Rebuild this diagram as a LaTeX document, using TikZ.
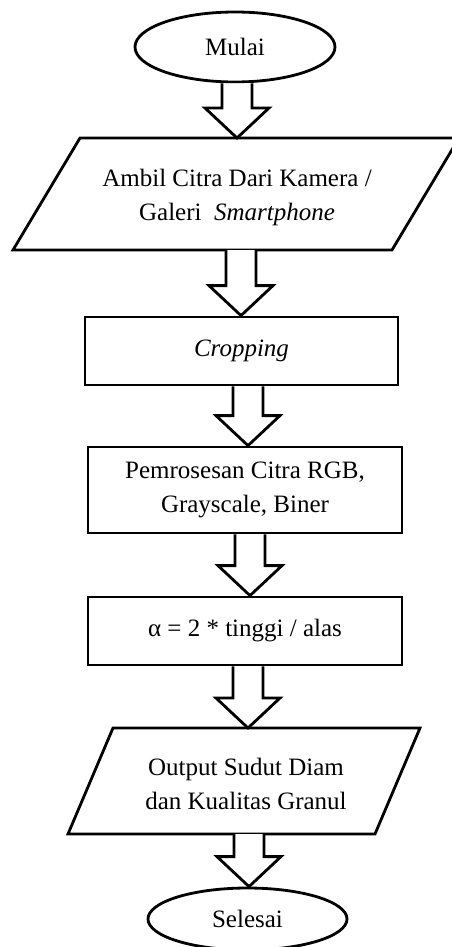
\documentclass[tikz,border=0pt]{standalone}
\usepackage{fontspec}
\setmainfont{Liberation Serif}
\usetikzlibrary{shapes.geometric,calc}
\tikzset{
  shapeline/.style={draw=black, line width=2.8pt, line join=miter},
  txt/.style={font=\fontsize{25pt}{34pt}\selectfont, align=center, inner sep=0pt},
  oval/.style={shapeline, ellipse, inner sep=0pt, font=\fontsize{25pt}{34pt}\selectfont},
  procbox/.style={shapeline, rectangle, inner sep=0pt, align=center, font=\fontsize{25pt}{34pt}\selectfont},
  blockarrow/.style={shapeline, fill=white, to path={
    let \p1=(\tikztostart), \p2=(\tikztotarget) in
    (\x1-15pt,\y1) -- (\x1-15pt,\y2+30pt) -- (\x1-32pt,\y2+30pt) -- (\x1,\y2)
    -- (\x1+32pt,\y2+30pt) -- (\x1+15pt,\y2+30pt) -- (\x1+15pt,\y1)}}
}
\begin{document}
\begin{tikzpicture}[x=1pt,y=-1pt]
\fill[white] (0,0) rectangle (451,947);
\useasboundingbox (0,0) rectangle (451,947);

% start
\node[oval, minimum width=200pt, minimum height=70pt] (mulai) at (235,47) {Mulai};

% input parallelogram
\draw[shapeline] (80,138) -- (459,138) -- (392,250) -- (13,250) -- cycle;
\node[txt] (input) at (237,197) {Ambil Citra Dari Kamera /\\Galeri\ \ \textit{Smartphone}};
\coordinate (p1top) at (237,138);
\coordinate (p1bot) at (241,250);

% process boxes
\node[procbox, minimum width=313pt, minimum height=68pt] (crop) at (241.5,351) {\textit{Cropping}};
\node[procbox, minimum width=314pt, minimum height=86pt] (proc) at (245,490) {Pemrosesan Citra RGB,\\Grayscale, Biner};
\node[procbox, minimum width=314pt, minimum height=68pt] (alpha) at (245,631) {α = 2 * tinggi / alas};

% output parallelogram
\draw[shapeline] (113,728) -- (420,728) -- (375,834) -- (68,834) -- cycle;
\node[txt] (output) at (246,784) {Output Sudut Diam\\dan Kualitas Granul};
\coordinate (p2top) at (249,728);
\coordinate (p2bot) at (249,834);

% end
\node[oval, minimum width=199pt, minimum height=62pt] (selesai) at (247.5,919) {Selesai};

% block arrows
\draw[blockarrow] ([xshift=2pt]mulai.south) to (p1top);
\draw[blockarrow] (p1bot) to (crop.north);
\draw[blockarrow] ([xshift=6.5pt]crop.south) to (proc.north);
\draw[blockarrow] ([xshift=5pt]proc.south) to (alpha.north);
\draw[blockarrow] ([xshift=3pt]alpha.south) to (p2top);
\draw[blockarrow] (p2bot) to (selesai.north);
\end{tikzpicture}
\end{document}
